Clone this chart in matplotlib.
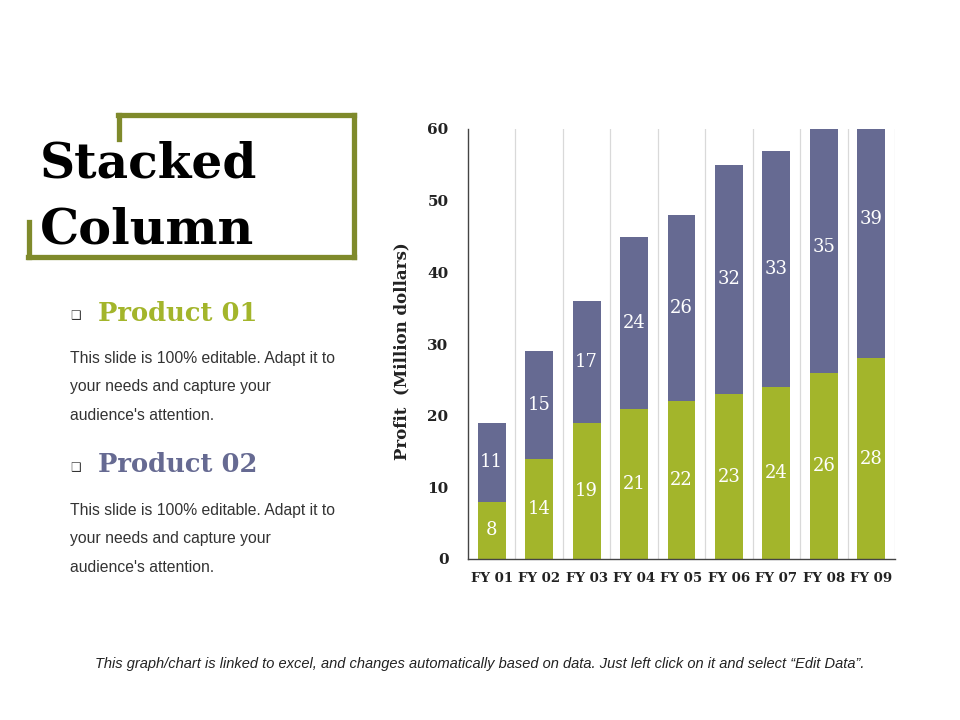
import numpy as np
import matplotlib.pyplot as plt
from matplotlib.lines import Line2D

# ----------------------------------------------- DATA -----------------------------------------------------------------
years = ["FY 01", "FY 02", "FY 03", "FY 04", "FY 05", "FY 06", "FY 07", "FY 08", "FY 09"]
product_01 = [8, 14, 19, 21, 22, 23, 24, 26, 28]
product_02 = [11, 15, 17, 24, 26, 32, 33, 35, 39]
y_ticks = [0, 10, 20, 30, 40, 50, 60]

GREEN = "#a3b52b"
PURPLE = "#666a92"
OLIVE = "#7f8a2b"
SERIF = "DejaVu Serif"
SANS = "Liberation Sans"

body_lines = ["This slide is 100% editable. Adapt it to", "your needs and capture your", "audience's attention."]

# ----------------------------------------------- FIGURE ---------------------------------------------------------------
fig = plt.figure(figsize=(9.6, 7.2), dpi=100)
W, H = 960, 720


def fx(px):
    return px / W


def fy(py):
    return 1 - py / H


# title frame
frame = [
    ((118, 115), (354, 115)),
    ((354, 115), (354, 257)),
    ((354, 257), (28, 257)),
    ((29, 257), (29, 222)),
    ((119, 115), (119, 139)),
]
for (x0, y0), (x1, y1) in frame:
    fig.add_artist(Line2D([fx(x0), fx(x1)], [fy(y0), fy(y1)], color=OLIVE, lw=3.8,
                          solid_capstyle="projecting", transform=fig.transFigure))

fig.text(fx(40), fy(177), "Stacked", fontsize=35, fontweight="bold", family=SERIF, color="black")
fig.text(fx(40), fy(243), "Column", fontsize=35.5, fontweight="bold", family=SERIF, color="black")

# product blocks
for name, color, y_head, y_body in [("Product 01", GREEN, 321, 358), ("Product 02", PURPLE, 472, 510)]:
    fig.text(fx(70), fy(y_head - 5), "\u2751", fontsize=8.5, family="DejaVu Sans", color="#333333", va="center")
    fig.text(fx(98), fy(y_head), name, fontsize=18.5, fontweight="bold", family=SERIF, color=color)
    for k, line in enumerate(body_lines):
        fig.text(fx(70), fy(y_body + 29 * k), line, fontsize=11.3, family=SANS, color="#333333",
                 va="center")

fig.text(0.5, fy(664), "This graph/chart is linked to excel, and changes automatically based on data. "
         "Just left click on it and select \u201cEdit Data\u201d.",
         ha="center", va="center", fontsize=10.5, style="italic", family=SANS, color="#222222")

# ----------------------------------------------- CHART ----------------------------------------------------------------
ax = fig.add_axes([fx(468), fy(559), fx(895) - fx(468), (559 - 129) / H])
x = np.arange(len(years))
ax.bar(x, product_01, width=0.59, color=GREEN, zorder=2)
ax.bar(x, product_02, width=0.59, bottom=product_01, color=PURPLE, zorder=2)

for i in range(len(years)):
    ax.text(x[i], product_01[i] / 2, str(product_01[i]), ha="center", va="center",
            color="white", fontsize=13, family=SERIF, zorder=3)
    ax.text(x[i], product_01[i] + product_02[i] / 2, str(product_02[i]), ha="center", va="center",
            color="white", fontsize=13, family=SERIF, zorder=3)

for b in np.arange(0.5, len(years), 1.0):
    ax.axvline(b, color="#d9d9d9", lw=0.9, zorder=1)

ax.set_xlim(-0.5, len(years) - 0.5)
ax.set_ylim(0, 60)
ax.set_yticks(y_ticks)
ax.set_yticklabels([str(v) for v in y_ticks], fontsize=11, fontweight="bold", family=SERIF, color="#222222")
ax.set_xticks(x)
ax.set_xticklabels(years, fontsize=9.6, fontweight="bold", family=SERIF, color="#222222")
ax.tick_params(axis="both", length=0)
ax.tick_params(axis="y", pad=14)
ax.tick_params(axis="x", pad=9)
ax.set_ylabel("Profit  (Million dollars)", fontsize=12, fontweight="bold", family=SERIF, color="#222222")
ax.yaxis.set_label_coords(-0.136, 0.484)

for side in ["top", "right"]:
    ax.spines[side].set_visible(False)
ax.spines["left"].set_color("#444444")
ax.spines["bottom"].set_color("#444444")
ax.spines["left"].set_linewidth(1.0)
ax.spines["bottom"].set_linewidth(1.0)

fig.savefig("out.png", dpi=100)
